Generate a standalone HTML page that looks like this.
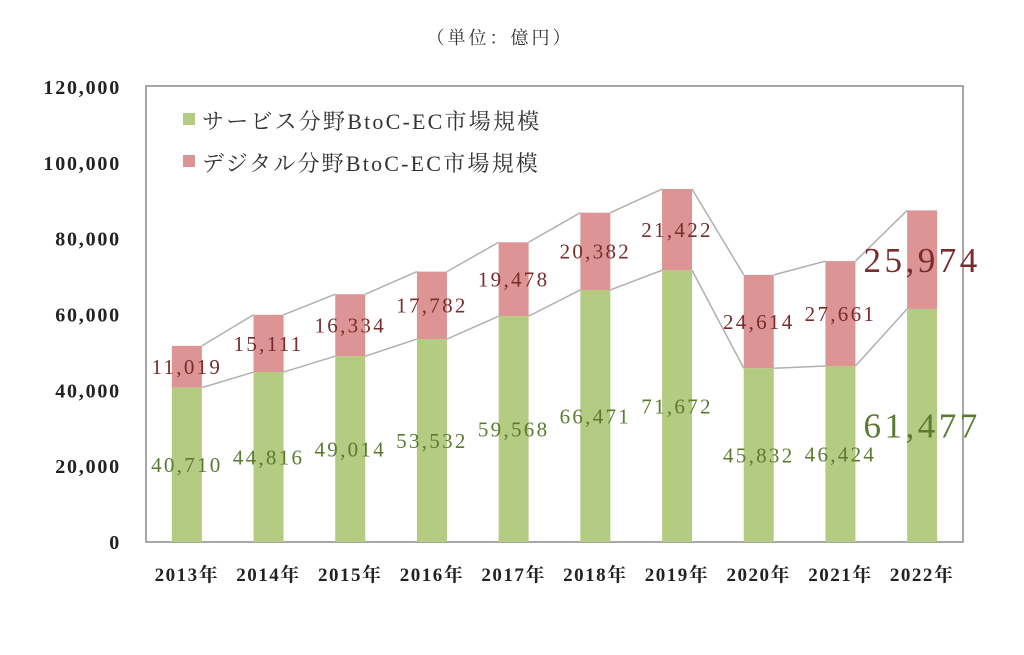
<!DOCTYPE html>
<html><head><meta charset="utf-8"><style>
body{margin:0;background:#fff;}
svg text{font-family:"Liberation Serif","Noto Serif CJK SC","Noto Sans CJK JP",serif;}
</style></head><body>
<svg id="chart" width="1024" height="650" xmlns="http://www.w3.org/2000/svg">
<text x="500" y="44" text-anchor="middle" font-size="18" letter-spacing="3" fill="#333">（単位：億円）</text>
<rect x="146" y="86" width="817" height="456" fill="#fff" stroke="#8a8a8a" stroke-width="1.5"/>
<g id="yaxis"></g>
<g id="lines"></g>
<g id="bars"></g>
<g id="labels"></g>
<g id="xaxis"></g>
<g>
<rect x="183" y="113" width="12" height="12" fill="#b3cc82"/>
<text x="202" y="129" font-size="22" letter-spacing="2.2" fill="#333">サービス分野BtoC-EC市場規模</text>
<rect x="183" y="155" width="12" height="12" fill="#dc9494"/>
<text x="202" y="171" font-size="22" letter-spacing="2.2" fill="#333">デジタル分野BtoC-EC市場規模</text>
</g>
</svg>
<script>
const categories=["2013年","2014年","2015年","2016年","2017年","2018年","2019年","2020年","2021年","2022年"];
const serviceValues=[40710,44816,49014,53532,59568,66471,71672,45832,46424,61477];
const digitalValues=[11019,15111,16334,17782,19478,20382,21422,24614,27661,25974];
const yTicks=[0,20000,40000,60000,80000,100000,120000];
const NS="http://www.w3.org/2000/svg";
const L=146,R=963,T=87,B=542,YMAX=120000,BW=30;
const bandW=(R-L)/categories.length;
function y(v){return B-(v/YMAX)*(B-T);}
function xc(i){return L+bandW*(i+0.5);}
function fmt(v){return v.toLocaleString('en-US');}
function mk(tag,attrs,parent){const e=document.createElementNS(NS,tag);for(const k in attrs)e.setAttribute(k,attrs[k]);parent.appendChild(e);return e;}
const gy=document.getElementById('yaxis'),gl=document.getElementById('lines'),gb=document.getElementById('bars'),gt=document.getElementById('labels'),gx=document.getElementById('xaxis');
yTicks.forEach(t=>{const e=mk('text',{x:121,y:y(t)+7,'text-anchor':'end','font-size':'20','letter-spacing':'1.8','font-weight':'bold',fill:'#222'},gy);e.textContent=fmt(t);

});
categories.forEach((c,i)=>{
 const x0=xc(i)-BW/2,s=serviceValues[i],d=digitalValues[i];
 const r1=mk('rect',{x:x0,y:y(s),width:BW,height:B-y(s),fill:'#b3cc82'},gb);
 
 
 const r2=mk('rect',{x:x0,y:y(s+d),width:BW,height:y(s)-y(s+d),fill:'#dc9494'},gb);
 
 
 if(i<categories.length-1){
  const nx=xc(i+1)-BW/2,ns=serviceValues[i+1],nd=digitalValues[i+1];
  const l1=mk('line',{x1:x0+BW,y1:y(s),x2:nx,y2:y(ns),stroke:'#b0b0b0','stroke-width':1.5},gl);
  
  
  const l2=mk('line',{x1:x0+BW,y1:y(s+d),x2:nx,y2:y(ns+nd),stroke:'#b0b0b0','stroke-width':1.5},gl);
  
  
 }
 const big=i===categories.length-1, fs=big?35:21, ls=big?3.5:2.3;
 const t1=mk('text',{x:xc(i),y:y(s/2)+fs*0.35,'text-anchor':'middle','font-size':fs,'letter-spacing':ls,fill:'#5b7a30'},gt);
 t1.textContent=fmt(s);
 
 
 const t2=mk('text',{x:xc(i),y:y(s+d/2)+fs*0.35,'text-anchor':'middle','font-size':fs,'letter-spacing':ls,fill:'#7a2b2b'},gt);
 t2.textContent=fmt(d);
 
 
 const tx=mk('text',{x:xc(i),y:581,'text-anchor':'middle','font-size':19,'letter-spacing':'1.5','font-weight':'bold',fill:'#222'},gx);
 tx.textContent=c;
 
 
});
</script>
</body></html>
